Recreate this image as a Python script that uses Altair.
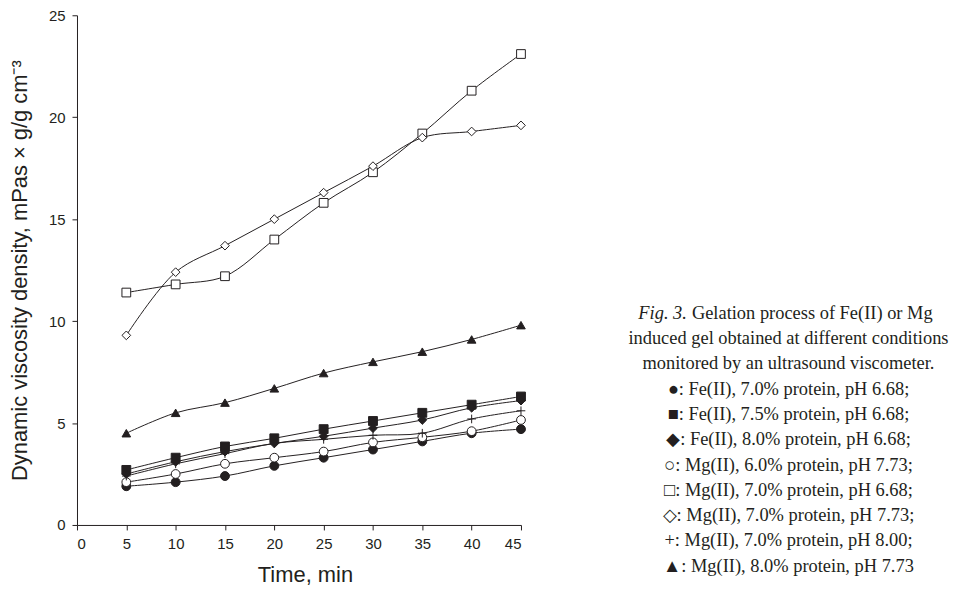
import altair as alt
import pandas as pd

# ---------------- data ----------------
times = [5, 10, 15, 20, 25, 30, 35, 40, 45]

fe_70_668 = [1.9, 2.1, 2.4, 2.9, 3.3, 3.7, 4.1, 4.5, 4.7]
fe_75_668 = [2.7, 3.3, 3.85, 4.25, 4.7, 5.1, 5.5, 5.9, 6.3]
fe_80_668 = [2.5, 3.1, 3.6, 4.0, 4.35, 4.75, 5.15, 5.75, 6.1]
mg_60_773 = [2.1, 2.5, 3.0, 3.3, 3.6, 4.05, 4.3, 4.6, 5.15]
mg_70_668 = [11.4, 11.8, 12.2, 14.0, 15.8, 17.3, 19.2, 21.3, 23.1]
mg_70_773 = [9.3, 12.4, 13.7, 15.0, 16.3, 17.6, 19.0, 19.3, 19.6]
mg_70_800 = [2.4, 3.0, 3.5, 4.0, 4.2, 4.4, 4.5, 5.2, 5.6]
mg_80_773 = [4.5, 5.5, 6.0, 6.7, 7.45, 8.0, 8.5, 9.1, 9.8]

series_names = ["Fe 7.0 6.68", "Fe 7.5 6.68", "Fe 8.0 6.68", "Mg 6.0 7.73",
                "Mg 7.0 6.68", "Mg 7.0 7.73", "Mg 7.0 8.00", "Mg 8.0 7.73"]
series_values = [fe_70_668, fe_75_668, fe_80_668, mg_60_773,
                 mg_70_668, mg_70_773, mg_70_800, mg_80_773]

x_ticks = [0, 5, 10, 15, 20, 25, 30, 35, 40, 45]
y_ticks = [0, 5, 10, 15, 20, 25]

caption_italic = "Fig. 3."
caption_first = "Gelation process of Fe(II) or Mg"
caption_lines = [
    "induced gel obtained at different conditions",
    "monitored by an ultrasound viscometer.",
    "\u25cf: Fe(II), 7.0% protein, pH 6.68;",
    "\u25a0: Fe(II), 7.5% protein, pH 6.68;",
    "\u25c6: Fe(II), 8.0% protein, pH 6.68;",
    "\u25cb: Mg(II), 6.0% protein, pH 7.73;",
    "\u25a1: Mg(II), 7.0% protein, pH 6.68;",
    "\u25c7: Mg(II), 7.0% protein, pH 7.73;",
    "+: Mg(II), 7.0% protein, pH 8.00;",
    "\u25b2: Mg(II), 8.0% protein, pH 7.73",
]

# ---------------- styles ----------------
INK = "#231f20"
PLUS = "M-1,0L1,0M0,-1L0,1"
marker_shapes = ["circle", "square", "diamond", "circle", "square", "diamond", PLUS, "triangle-up"]
marker_fills = [INK, INK, INK, "white", "white", "white", "transparent", INK]
marker_sizes = [80, 75, 115, 80, 70, 115, 100, 115]

rows = []
for name, vals in zip(series_names, series_values):
    for t, v in zip(times, vals):
        rows.append({"series": name, "time": t, "value": v})
df = pd.DataFrame(rows)

W, H = 446, 512

x_enc = alt.X("time:Q",
              scale=alt.Scale(domain=[0, 45], nice=False, zero=False),
              axis=alt.Axis(values=x_ticks, title="Time, min",
                            titleX=229, titleY=50, titleAlign="center",
                            titleBaseline="middle", labelPadding=7))
y_enc = alt.Y("value:Q",
              scale=alt.Scale(domain=[0, 25], nice=False),
              axis=alt.Axis(values=y_ticks,
                            title="Dynamic viscosity density, mPas \u00d7 g/g cm\u207b\u00b3",
                            titleX=-58, titleY=H / 2, titleAngle=270,
                            titleAlign="center", titleBaseline="middle",
                            labelPadding=7))

base = alt.Chart(df)

lines = base.mark_line(interpolate="catmull-rom", color=INK, strokeWidth=1).encode(
    x=x_enc, y=y_enc, detail="series:N")

points = base.mark_point(stroke=INK, strokeWidth=1, opacity=1, fillOpacity=1).encode(
    x="time:Q", y="value:Q",
    shape=alt.Shape("series:N", scale=alt.Scale(domain=series_names, range=marker_shapes), legend=None),
    fill=alt.Fill("series:N", scale=alt.Scale(domain=series_names, range=marker_fills), legend=None),
    size=alt.Size("series:N", scale=alt.Scale(domain=series_names, range=marker_sizes), legend=None),
)

# caption (positions relative to plot origin at page (77.3, 14))
OX, OY = 77.3, 14
CAP_FONT = "Liberation Serif"
CAP_SIZE = 18.5
layers = [lines, points]
first_base = 319 - OY
layers.append(alt.Chart(pd.DataFrame({"t": [caption_italic]})).mark_text(
    font=CAP_FONT, fontSize=CAP_SIZE, fontStyle="italic", align="right",
    baseline="alphabetic", color=INK).encode(
    text="t:N", x=alt.value(690 - OX), y=alt.value(first_base)))
layers.append(alt.Chart(pd.DataFrame({"t": [caption_first]})).mark_text(
    font=CAP_FONT, fontSize=CAP_SIZE, align="left",
    baseline="alphabetic", color=INK).encode(
    text="t:N", x=alt.value(695 - OX), y=alt.value(first_base)))
for i, line in enumerate(caption_lines):
    layers.append(alt.Chart(pd.DataFrame({"t": [line]})).mark_text(
        font=CAP_FONT, fontSize=CAP_SIZE, align="center",
        baseline="alphabetic", color=INK).encode(
        text="t:N", x=alt.value(792 - OX), y=alt.value(first_base + 25.4 * (i + 1))))

chart = alt.layer(*layers).properties(
    width=W, height=H,
    autosize=alt.AutoSizeParams(type="none"),
    padding={"left": 69.3, "top": 6, "right": 438, "bottom": 60},
).configure_view(stroke="transparent").configure_axis(
    grid=False, domainColor=INK, tickColor=INK, tickSize=5,
    labelFont="Liberation Sans", labelFontSize=15, labelColor=INK,
    titleFont="Liberation Sans", titleFontSize=22, titleFontWeight="normal",
    titleColor=INK,
)

chart.save("out.html", embed_options={"renderer": "svg", "actions": False})
